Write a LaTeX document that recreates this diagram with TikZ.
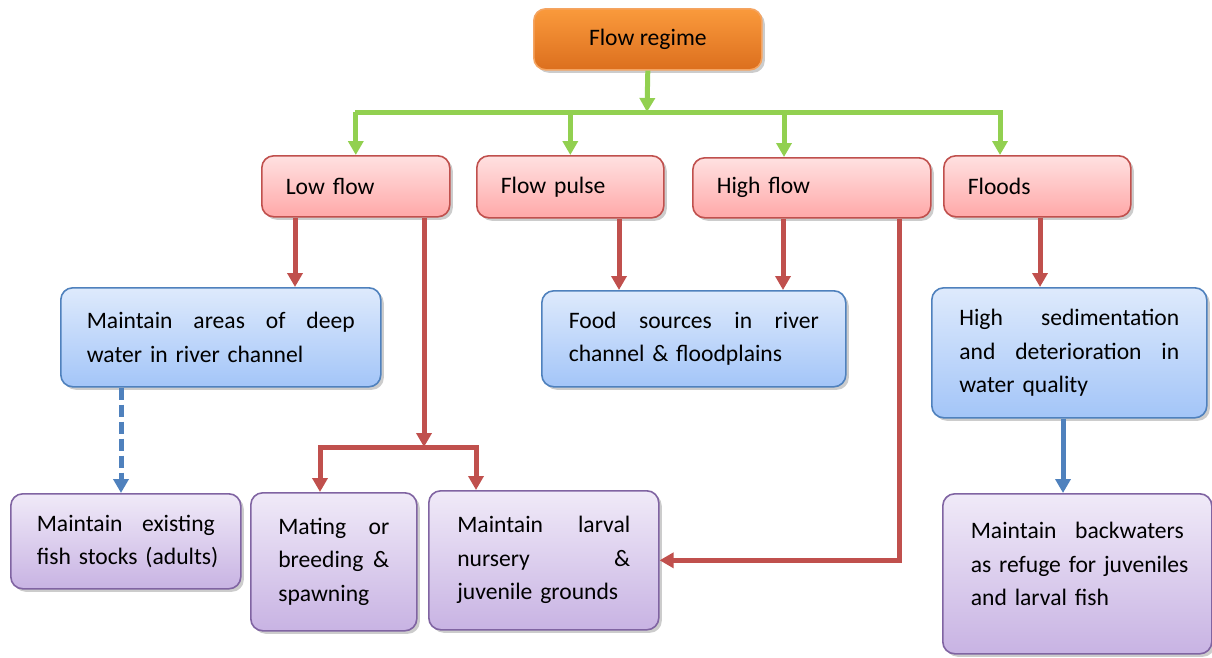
\documentclass[tikz,border=0pt]{standalone}
\usepackage{fontspec}
\setmainfont{Carlito}
\usetikzlibrary{arrows.meta,shadows}
\definecolor{redc}{HTML}{C0504D}
\definecolor{greenc}{HTML}{92D050}
\definecolor{bluec}{HTML}{4F81BD}
\definecolor{purc}{HTML}{8064A2}
\definecolor{orT}{HTML}{FA9A3C}
\definecolor{orB}{HTML}{DC6F1E}
\definecolor{orD}{HTML}{F4A461}
\definecolor{pkT}{HTML}{FFE1E1}
\definecolor{pkB}{HTML}{FFA8A8}
\definecolor{blT}{HTML}{DEEAFC}
\definecolor{blB}{HTML}{A3C5F8}
\definecolor{puT}{HTML}{F0EAF8}
\definecolor{puB}{HTML}{C8B3E3}
\newcommand\JLine[1]{\makebox[\hsize][l]{#1}}
\begin{document}
\begin{tikzpicture}[x=1pt,y=-1pt,
  base/.style={rectangle, rounded corners=12pt, line width=1.6pt, anchor=north west,
    inner ysep=0pt, align=left, text=black,
    font=\fontsize{23.6pt}{33.5pt}\selectfont,
    drop shadow={shadow xshift=3pt, shadow yshift=-3pt, opacity=0.2, fill=black}},
  orbox/.style={base, draw=orD, top color=orT, bottom color=orB, align=center},
  pinkbox/.style={base, draw=redc, top color=pkT, bottom color=pkB, inner xsep=24pt},
  bluebox/.style={base, draw=bluec, top color=blT, bottom color=blB},
  purbox/.style={base, draw=purc, top color=puT, bottom color=puB},
  tipx/.style={-{Triangle[width=15pt,length=14pt]}},
  gline/.style={draw=greenc, line width=5pt},
  garrow/.style={gline, tipx},
  rarrow/.style={draw=redc, line width=5pt, tipx},
  barrow/.style={draw=bluec, line width=5pt, tipx}
]
\useasboundingbox (0,0) rectangle (1212,657);

% top
\node[orbox, minimum width=228pt, minimum height=61pt] (regime) at (533,8) {Flow regime};

% second row
\node[pinkbox, text width=140pt, minimum height=61pt] (low) at (261,155) {Low flow};
\node[pinkbox, text width=139pt, minimum height=62pt] (pulse) at (476,155) {Flow pulse};
\node[pinkbox, text width=190pt, minimum height=60pt] (high) at (692,157) {High flow};
\node[pinkbox, text width=139pt, minimum height=61pt] (floods) at (943,155) {Floods};

% third row
\node[bluebox, text width=268pt, inner xsep=26pt, minimum height=99pt] (areas) at (60,287)
  {\JLine{Maintain\hfill areas\hfill of\hfill deep}\\\mbox{water in river channel}};
\node[bluebox, text width=250pt, inner xsep=27pt, minimum height=96pt] (food) at (541,290)
  {\JLine{Food\hfill sources\hfill in\hfill river}\\\mbox{channel \& floodplains}};
\node[bluebox, text width=220pt, inner xsep=27.5pt, minimum height=130pt] (sed) at (931,287)
  {\JLine{High\hfill sedimentation}\\\JLine{and\hfill deterioration\hfill in}\\\mbox{water quality}};

% bottom row
\node[purbox, text width=178pt, inner xsep=26pt, minimum height=95pt] (exist) at (10,493)
  {\JLine{Maintain\hfill existing}\\\mbox{fish stocks (adults)}};
\node[purbox, text width=111pt, inner xsep=27.5pt, minimum height=138pt] (mating) at (250,492)
  {\JLine{Mating\hfill or}\\\JLine{breeding\hfill\&}\\\mbox{spawning}};
\node[purbox, text width=173pt, inner xsep=28.5pt, minimum height=139pt] (larval) at (428,490)
  {\JLine{Maintain\hfill larval}\\\JLine{nursery\hfill\&}\\\mbox{juvenile grounds}};
\node[purbox, text width=213pt, inner xsep=28pt, minimum height=160pt] (back) at (942,493)
  {\JLine{Maintain\hfill backwaters}\\\mbox{as refuge for juveniles}\\\mbox{and larval fish}\\[-14pt]\mbox{}};

% green connectors
\coordinate (busC) at (647,112);
\coordinate (busL) at (355,112);
\coordinate (busR) at (1003,112);
\coordinate (hN) at ([xshift=92pt]high.north west);
\coordinate (fN) at ([xshift=57pt]floods.north west);
\draw[gline] (busL) -- (busR);
\draw[garrow] (regime.south) -- (busC);
\draw[garrow] (busC -| low.north) -- (low.north);
\draw[garrow] (busC -| pulse.north) -- (pulse.north);
\draw[garrow] (busC -| hN) -- (hN);
\draw[garrow] (busC -| fN) -- (fN);

% red connectors
\coordinate (lA) at ([xshift=34pt]low.south west);
\coordinate (lB) at ([xshift=163pt]low.south west);
\coordinate (split) at (424,447);
\coordinate (mA) at (320,447);
\coordinate (nA) at (476,447);
\coordinate (pA) at ([xshift=143pt]pulse.south west);
\coordinate (hA) at ([xshift=91pt]high.south west);
\coordinate (hB) at ([xshift=207pt]high.south west);
\coordinate (fA) at ([xshift=97pt]floods.south west);
\draw[rarrow] (lA) -- (lA |- areas.north);
\draw[rarrow] (lB) -- (split);
\draw[rarrow] (split) -- (mA) -- (mA |- mating.north);
\draw[rarrow] (split) -- (nA) -- (nA |- larval.north);
\draw[rarrow] (pA) -- (pA |- food.north);
\draw[rarrow] (hA) -- (hA |- food.north);
\draw[rarrow] (hB) |- (larval.east);
\draw[rarrow] (fA) -- (fA |- sed.north);

% blue connectors
\coordinate (aA) at ([xshift=61pt]areas.south west);
\coordinate (sA) at ([xshift=132pt]sed.south west);
\draw[barrow, dash pattern=on 12pt off 5pt] (aA) -- (aA |- exist.north);
\draw[barrow] (sA) -- (sA |- back.north);
\end{tikzpicture}
\end{document}
